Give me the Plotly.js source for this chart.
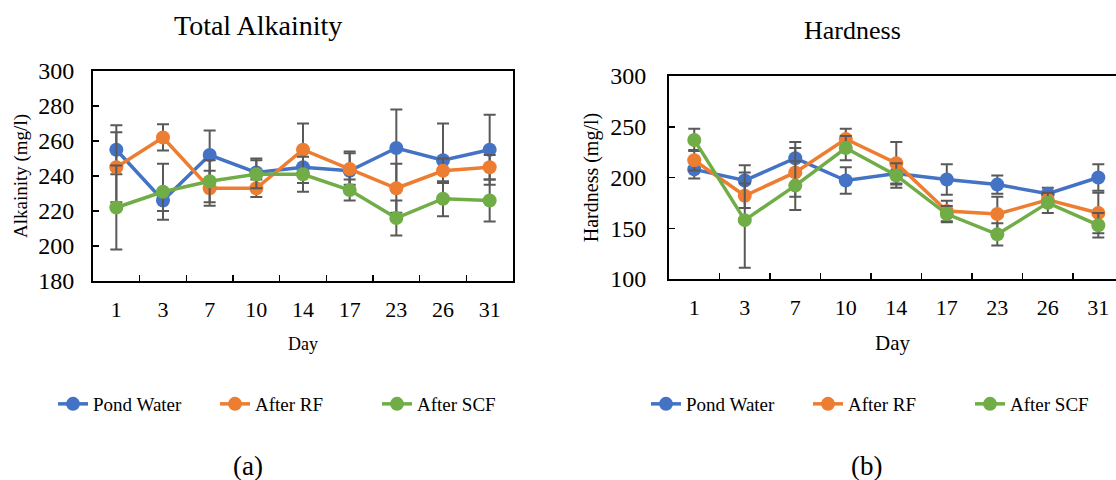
<!DOCTYPE html>
<html>
<head>
<meta charset="utf-8">
<script src="https://cdn.plot.ly/plotly-3.0.1.min.js"></script>
<style>html,body{margin:0;padding:0;background:#fff;}#chart{width:1116px;height:480px;}</style>
</head>
<body>
<div id="chart"></div>
<script>
// Categories
const days = ['1','3','7','10','14','17','23','26','31'];
const seriesNames = ['Pond Water','After RF','After SCF'];

// Total Alkalinity (mg/l)
const alkPond    = [255,226,252,242,245,243,256,249,255];
const alkPondErr = [14,6,14,8,9,11,22,21,20];
const alkRF      = [245,262,233,233,255,244,233,243,245];
const alkRFErr   = [20,7.5,10,5,15,9,14,7,7];
const alkSCF     = [222,231,237,241,241,232,216,227,226];
const alkSCFErr  = [24,16,12,8,10,6,10,10,12];

// Hardness (mg/l)
const hardPond    = [208,197,219,197,204,198,193,184,200];
const hardPondErr = [9,15,16,13,10,15,9,6,13];
const hardRF      = [217,182,205,238,214,167,164,178,165];
const hardRFErr   = [10,12,24,10,21,10,17,6,20];
const hardSCF     = [237,158,192,229,202,164,144,175,153];
const hardSCFErr  = [11,47,24,12,12,8,11,10,12];

const colors = ['#4472C4','#ED7D31','#70AD47'];
const FONT = "Liberation Serif, Times New Roman, serif";

function mk(y, err, i, xa, ya, leg){
  return {
    type:'scatter', mode:'lines+markers', x:days, y:y, name:seriesNames[i],
    xaxis:xa, yaxis:ya, legend:leg,
    line:{color:colors[i], width:3.5},
    marker:{color:colors[i], size:14},
    error_y:{type:'data', array:err, visible:true, color:'#595959', thickness:2, width:6}
  };
}

const traces = [
  mk(alkPond, alkPondErr, 0, 'x', 'y', 'legend'),
  mk(alkRF, alkRFErr, 1, 'x', 'y', 'legend'),
  mk(alkSCF, alkSCFErr, 2, 'x', 'y', 'legend'),
  mk(hardPond, hardPondErr, 0, 'x2', 'y2', 'legend2'),
  mk(hardRF, hardRFErr, 1, 'x2', 'y2', 'legend2'),
  mk(hardSCF, hardSCFErr, 2, 'x2', 'y2', 'legend2')
];

const W = 1116, H = 480;
const px = v => v / W;
const py = v => (H - v) / H;

const xCommon = {
  type:'category', showline:true, linecolor:'#000', linewidth:2,
  ticks:'inside', tickson:'boundaries', ticklen:6, tickwidth:1.5, tickcolor:'#000',
  showgrid:false, zeroline:false, fixedrange:true, ticklabelstandoff:8,
  tickfont:{family:FONT, size:22, color:'#000'}
};
const yCommon = {
  showline:true, linecolor:'#000', linewidth:2,
  ticks:'inside', ticklen:6, tickwidth:1.5, tickcolor:'#000',
  showgrid:false, zeroline:false, fixedrange:true,
  tickfont:{family:FONT, size:24, color:'#000'}
};
const legCommon = {orientation:'h', yanchor:'middle', xanchor:'left',
  entrywidth:117, entrywidthmode:'pixels',
  font:{family:FONT, size:19, color:'#000'}, bgcolor:'rgba(0,0,0,0)', itemclick:false};

const layout = {
  width:W, height:H,
  margin:{l:0, r:0, t:0, b:0, autoexpand:false},
  paper_bgcolor:'#fff', plot_bgcolor:'#fff',
  font:{family:FONT, color:'#000'},
  xaxis: Object.assign({}, xCommon, {
    domain:[px(93), px(513)], range:[-0.5, 8.5], mirror:true, anchor:'y',
    title:{text:'Day', font:{family:FONT, size:18, color:'#000'}, standoff:16}
  }),
  yaxis: Object.assign({}, yCommon, {
    domain:[py(281), py(71)], range:[180,300], dtick:20, mirror:true, anchor:'x',
    ticklabelstandoff:12,
    title:{text:'Alkainity (mg/l)', font:{family:FONT, size:19, color:'#000'}, standoff:6}
  }),
  xaxis2: Object.assign({}, xCommon, {
    domain:[px(669), 1], range:[-0.5, 8.35], mirror:true, anchor:'y2',
    title:{text:'Day', font:{family:FONT, size:21, color:'#000'}, standoff:16}
  }),
  yaxis2: Object.assign({}, yCommon, {
    domain:[py(279), py(76)], range:[100,300], dtick:50, mirror:false, anchor:'x2',
    ticklabelstandoff:16,
    title:{text:'Hardness (mg/l)', font:{family:FONT, size:20, color:'#000'}, standoff:6}
  }),
  showlegend:true,
  legend: Object.assign({}, legCommon, {x:px(53), y:py(404)}),
  legend2: Object.assign({}, legCommon, {x:px(646), y:py(404)}),
  annotations:[
    {text:'Total Alkainity', xref:'paper', yref:'paper', x:px(258), y:py(25), xanchor:'center', yanchor:'middle', showarrow:false, font:{family:FONT, size:28, color:'#000'}},
    {text:'Hardness', xref:'paper', yref:'paper', x:px(852), y:py(31), xanchor:'center', yanchor:'middle', showarrow:false, font:{family:FONT, size:26, color:'#000'}},
    {text:'(a)', xref:'paper', yref:'paper', x:px(248), y:py(466), xanchor:'center', yanchor:'middle', showarrow:false, font:{family:FONT, size:27, color:'#000'}},
    {text:'(b)', xref:'paper', yref:'paper', x:px(866), y:py(466), xanchor:'center', yanchor:'middle', showarrow:false, font:{family:FONT, size:27, color:'#000'}}
  ]
};

Plotly.newPlot('chart', traces, layout, {displayModeBar:false, staticPlot:true});
</script>
</body>
</html>
